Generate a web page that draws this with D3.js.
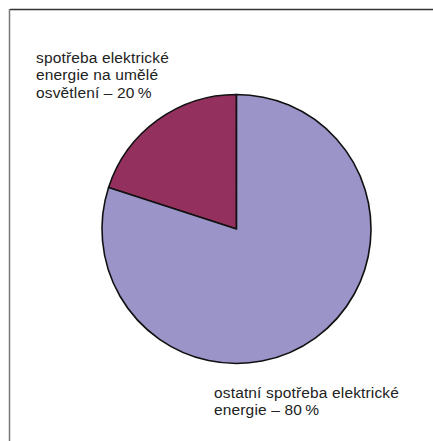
<!DOCTYPE html>
<html><head><meta charset="utf-8">
<script src="https://cdn.jsdelivr.net/npm/d3@7"></script>
<style>body{margin:0;background:#fff}svg{display:block}</style>
</head><body>
<script>
const categories = ["spotřeba elektrické energie na umělé osvětlení", "ostatní spotřeba elektrické energie"];
const values = [20, 80];
const colors = ["#94305e", "#9a94c8"];
const labelLines = [
  ["spotřeba elektrické", "energie na umělé", "osvětlení – 20\u2009%"],
  ["ostatní spotřeba elektrické", "energie – 80\u2009%"]
];

const W = 433, H = 441;
const svg = d3.select("body").append("svg").attr("width", W).attr("height", H);

// frame
svg.append("line").attr("x1", 10).attr("y1", 9.5).attr("x2", W).attr("y2", 9.5)
  .attr("stroke", "#333").attr("stroke-width", 1.3);
svg.append("line").attr("x1", 9.5).attr("y1", 9).attr("x2", 9.5).attr("y2", H)
  .attr("stroke", "#777").attr("stroke-width", 1.5);

const cx = 236.5, cy = 229, r = 134.5;
const total = d3.sum(values);
const pie = d3.pie().sort(null).value(d => d)
  .startAngle(-2 * Math.PI * values[0] / total).endAngle(2 * Math.PI - 2 * Math.PI * values[0] / total);
const arc = d3.arc().innerRadius(0).outerRadius(r);
const g = svg.append("g").attr("transform", `translate(${cx},${cy})`);
g.selectAll("path").data(pie(values)).join("path")
  .attr("d", arc).attr("fill", (d, i) => colors[i])
  .attr("stroke", "#111").attr("stroke-width", 1.6).attr("stroke-linejoin", "round");

const labelPos = [{x: 36, y: 63}, {x: 214, y: 397.5}];
const lh = 17.3;
labelLines.forEach((lines, i) => {
  const t = svg.append("text")
    .attr("font-family", "'Liberation Sans', Arial, Helvetica, sans-serif")
    .attr("font-size", 15.5).attr("letter-spacing", 0.15).attr("fill", "#222");
  lines.forEach((ln, j) => {
    t.append("tspan").attr("x", labelPos[i].x).attr("y", labelPos[i].y + j * lh).text(ln);
  });
});
</script>
</body></html>
